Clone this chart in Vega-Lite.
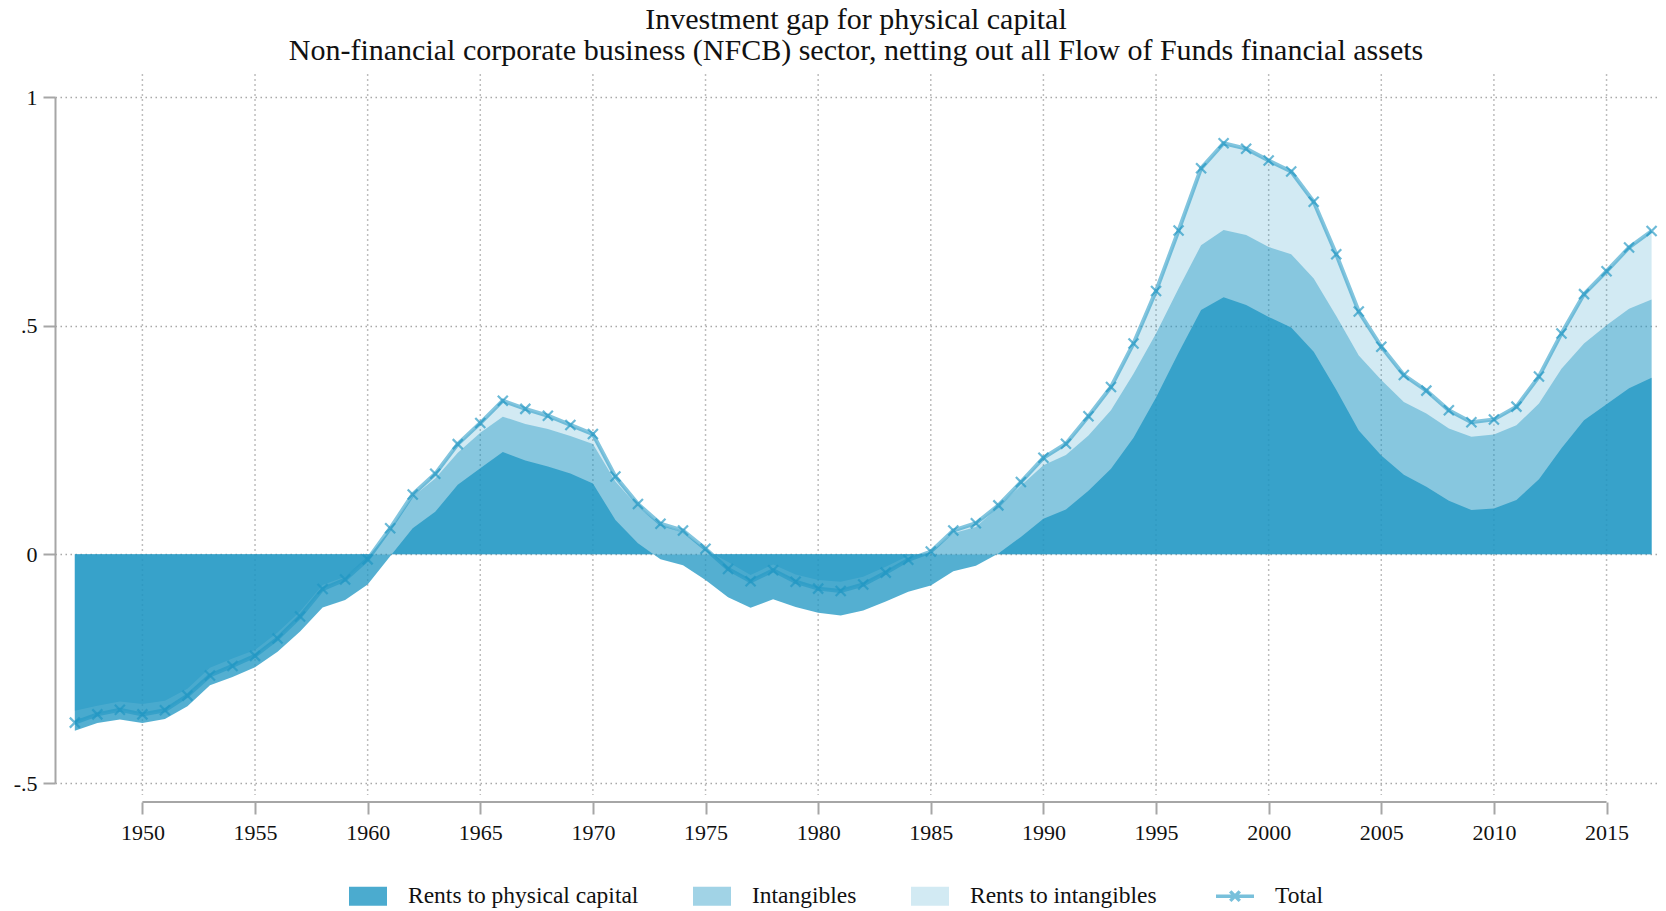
{
  "$schema": "https://vega.github.io/schema/vega-lite/v6.json",
  "width": 1602,
  "height": 686,
  "autosize": {"type": "none"},
  "padding": {"left": 55, "top": 97, "right": 9, "bottom": 128},
  "background": "white",
  "config": {
    "view": {"stroke": null},
    "font": "Liberation Serif",
    "axis": {"labelFont": "Liberation Serif", "labelColor": "#111111", "titleFont": "Liberation Serif"},
    "legend": {"labelFont": "Liberation Serif"}
  },
  "title": {
    "text": "Investment gap for physical capital",
    "subtitle": "Non-financial corporate business (NFCB) sector, netting out all Flow of Funds financial assets",
    "font": "Liberation Serif",
    "fontSize": 30,
    "fontWeight": "normal",
    "color": "#111111",
    "subtitleFont": "Liberation Serif",
    "subtitleFontSize": 30,
    "subtitleColor": "#111111",
    "subtitlePadding": 1,
    "anchor": "middle",
    "offset": 7
  },
  "datasets": {
    "gap": [
      {"year": 1947, "physical": -0.386, "physical_plus_intangibles": -0.342, "total": -0.368},
      {"year": 1948, "physical": -0.369, "physical_plus_intangibles": -0.331, "total": -0.350},
      {"year": 1949, "physical": -0.361, "physical_plus_intangibles": -0.322, "total": -0.340},
      {"year": 1950, "physical": -0.369, "physical_plus_intangibles": -0.327, "total": -0.350},
      {"year": 1951, "physical": -0.360, "physical_plus_intangibles": -0.320, "total": -0.341},
      {"year": 1952, "physical": -0.332, "physical_plus_intangibles": -0.294, "total": -0.309},
      {"year": 1953, "physical": -0.286, "physical_plus_intangibles": -0.248, "total": -0.265},
      {"year": 1954, "physical": -0.268, "physical_plus_intangibles": -0.228, "total": -0.244},
      {"year": 1955, "physical": -0.247, "physical_plus_intangibles": -0.209, "total": -0.222},
      {"year": 1956, "physical": -0.213, "physical_plus_intangibles": -0.171, "total": -0.184},
      {"year": 1957, "physical": -0.169, "physical_plus_intangibles": -0.125, "total": -0.136},
      {"year": 1958, "physical": -0.116, "physical_plus_intangibles": -0.067, "total": -0.076},
      {"year": 1959, "physical": -0.100, "physical_plus_intangibles": -0.049, "total": -0.055},
      {"year": 1960, "physical": -0.066, "physical_plus_intangibles": -0.007, "total": -0.011},
      {"year": 1961, "physical": -0.004, "physical_plus_intangibles": 0.053, "total": 0.057},
      {"year": 1962, "physical": 0.057, "physical_plus_intangibles": 0.126, "total": 0.131},
      {"year": 1963, "physical": 0.093, "physical_plus_intangibles": 0.166, "total": 0.176},
      {"year": 1964, "physical": 0.152, "physical_plus_intangibles": 0.222, "total": 0.241},
      {"year": 1965, "physical": 0.188, "physical_plus_intangibles": 0.266, "total": 0.287},
      {"year": 1966, "physical": 0.224, "physical_plus_intangibles": 0.301, "total": 0.336},
      {"year": 1967, "physical": 0.205, "physical_plus_intangibles": 0.285, "total": 0.318},
      {"year": 1968, "physical": 0.192, "physical_plus_intangibles": 0.274, "total": 0.303},
      {"year": 1969, "physical": 0.177, "physical_plus_intangibles": 0.259, "total": 0.283},
      {"year": 1970, "physical": 0.155, "physical_plus_intangibles": 0.241, "total": 0.263},
      {"year": 1971, "physical": 0.075, "physical_plus_intangibles": 0.159, "total": 0.170},
      {"year": 1972, "physical": 0.024, "physical_plus_intangibles": 0.104, "total": 0.110},
      {"year": 1973, "physical": -0.011, "physical_plus_intangibles": 0.064, "total": 0.067},
      {"year": 1974, "physical": -0.024, "physical_plus_intangibles": 0.048, "total": 0.052},
      {"year": 1975, "physical": -0.056, "physical_plus_intangibles": 0.010, "total": 0.012},
      {"year": 1976, "physical": -0.094, "physical_plus_intangibles": -0.017, "total": -0.032},
      {"year": 1977, "physical": -0.117, "physical_plus_intangibles": -0.045, "total": -0.059},
      {"year": 1978, "physical": -0.098, "physical_plus_intangibles": -0.022, "total": -0.035},
      {"year": 1979, "physical": -0.115, "physical_plus_intangibles": -0.044, "total": -0.060},
      {"year": 1980, "physical": -0.128, "physical_plus_intangibles": -0.056, "total": -0.075},
      {"year": 1981, "physical": -0.134, "physical_plus_intangibles": -0.060, "total": -0.080},
      {"year": 1982, "physical": -0.123, "physical_plus_intangibles": -0.049, "total": -0.066},
      {"year": 1983, "physical": -0.103, "physical_plus_intangibles": -0.027, "total": -0.040},
      {"year": 1984, "physical": -0.082, "physical_plus_intangibles": -0.003, "total": -0.012},
      {"year": 1985, "physical": -0.068, "physical_plus_intangibles": 0.004, "total": 0.006},
      {"year": 1986, "physical": -0.037, "physical_plus_intangibles": 0.046, "total": 0.052},
      {"year": 1987, "physical": -0.025, "physical_plus_intangibles": 0.060, "total": 0.068},
      {"year": 1988, "physical": 0.002, "physical_plus_intangibles": 0.103, "total": 0.107},
      {"year": 1989, "physical": 0.038, "physical_plus_intangibles": 0.150, "total": 0.158},
      {"year": 1990, "physical": 0.078, "physical_plus_intangibles": 0.195, "total": 0.211},
      {"year": 1991, "physical": 0.098, "physical_plus_intangibles": 0.217, "total": 0.242},
      {"year": 1992, "physical": 0.139, "physical_plus_intangibles": 0.260, "total": 0.302},
      {"year": 1993, "physical": 0.187, "physical_plus_intangibles": 0.315, "total": 0.366},
      {"year": 1994, "physical": 0.255, "physical_plus_intangibles": 0.395, "total": 0.461},
      {"year": 1995, "physical": 0.343, "physical_plus_intangibles": 0.483, "total": 0.576},
      {"year": 1996, "physical": 0.441, "physical_plus_intangibles": 0.581, "total": 0.708},
      {"year": 1997, "physical": 0.534, "physical_plus_intangibles": 0.676, "total": 0.844},
      {"year": 1998, "physical": 0.562, "physical_plus_intangibles": 0.709, "total": 0.899},
      {"year": 1999, "physical": 0.545, "physical_plus_intangibles": 0.698, "total": 0.887},
      {"year": 2000, "physical": 0.519, "physical_plus_intangibles": 0.672, "total": 0.861},
      {"year": 2001, "physical": 0.496, "physical_plus_intangibles": 0.656, "total": 0.837},
      {"year": 2002, "physical": 0.443, "physical_plus_intangibles": 0.603, "total": 0.771},
      {"year": 2003, "physical": 0.360, "physical_plus_intangibles": 0.521, "total": 0.656},
      {"year": 2004, "physical": 0.271, "physical_plus_intangibles": 0.435, "total": 0.531},
      {"year": 2005, "physical": 0.216, "physical_plus_intangibles": 0.381, "total": 0.454},
      {"year": 2006, "physical": 0.174, "physical_plus_intangibles": 0.333, "total": 0.392},
      {"year": 2007, "physical": 0.148, "physical_plus_intangibles": 0.308, "total": 0.358},
      {"year": 2008, "physical": 0.117, "physical_plus_intangibles": 0.275, "total": 0.315},
      {"year": 2009, "physical": 0.097, "physical_plus_intangibles": 0.257, "total": 0.289},
      {"year": 2010, "physical": 0.100, "physical_plus_intangibles": 0.262, "total": 0.295},
      {"year": 2011, "physical": 0.119, "physical_plus_intangibles": 0.282, "total": 0.323},
      {"year": 2012, "physical": 0.164, "physical_plus_intangibles": 0.330, "total": 0.389},
      {"year": 2013, "physical": 0.232, "physical_plus_intangibles": 0.406, "total": 0.483},
      {"year": 2014, "physical": 0.293, "physical_plus_intangibles": 0.461, "total": 0.569},
      {"year": 2015, "physical": 0.328, "physical_plus_intangibles": 0.501, "total": 0.619},
      {"year": 2016, "physical": 0.363, "physical_plus_intangibles": 0.537, "total": 0.671},
      {"year": 2017, "physical": 0.386, "physical_plus_intangibles": 0.557, "total": 0.707}
    ],
    "tickyears": [
      {"year": 1950}, {"year": 1955}, {"year": 1960}, {"year": 1965}, {"year": 1970}, {"year": 1975}, {"year": 1980},
      {"year": 1985}, {"year": 1990}, {"year": 1995}, {"year": 2000}, {"year": 2005}, {"year": 2010}, {"year": 2015}
    ]
  },
  "layer": [
    {
      "data": {"name": "tickyears"},
      "mark": {"type": "rule", "color": "#a8a8a8", "strokeWidth": 1.5, "strokeDash": [1.5, 3.5]},
      "encoding": {
        "x": {"field": "year", "type": "quantitative"},
        "y": {"datum": 1.05},
        "y2": {"datum": -0.526}
      }
    },
    {
      "data": {"values": [{"axis": "x"}]},
      "mark": {"type": "rule", "color": "#a6a6a6", "strokeWidth": 2},
      "encoding": {
        "x": {"datum": 1950},
        "x2": {"datum": 2015},
        "y": {"datum": -0.5416}
      }
    },
    {
      "data": {"name": "gap"},
      "mark": {"type": "area", "fillOpacity": 0.2, "interpolate": "linear"},
      "encoding": {
        "x": {
          "field": "year", "type": "quantitative",
          "scale": {"domain": [1946.12, 2017.24], "nice": false, "zero": false},
          "axis": {
            "title": null, "values": [1950, 1955, 1960, 1965, 1970, 1975, 1980, 1985, 1990, 1995, 2000, 2005, 2010, 2015],
            "format": "d", "domain": false, "grid": false, "offset": 19,
            "tickSize": 12, "tickWidth": 2, "tickColor": "#a6a6a6",
            "labelFontSize": 22, "labelPadding": 8
          }
        },
        "y": {
          "field": "total", "type": "quantitative", "stack": null,
          "scale": {"domain": [-0.5, 1], "nice": false, "zero": false},
          "axis": {
            "title": null, "values": [-0.5, 0, 0.5, 1],
            "labelExpr": "datum.value == 0.5 ? '.5' : datum.value == -0.5 ? '-.5' : datum.value == 1 ? '1' : '0'",
            "domainColor": "#a6a6a6", "domainWidth": 2,
            "tickSize": 12, "tickWidth": 2, "tickColor": "#a6a6a6",
            "labelFontSize": 22, "labelPadding": 6,
            "grid": true, "gridColor": "#a8a8a8", "gridDash": [1.5, 3.5], "gridWidth": 1.5
          }
        },
        "y2": {"datum": 0},
        "color": {
          "datum": "Rents to intangibles",
          "scale": {
            "domain": ["Rents to physical capital", "Intangibles", "Rents to intangibles", "Total"],
            "range": ["#1e96c3", "#1e96c3", "#1e96c3", "#1e96c3"]
          },
          "legend": {
            "title": null,
            "orient": "none",
            "legendX": 292,
            "legendY": 778,
            "direction": "horizontal",
            "padding": 0,
            "symbolSize": 1444,
            "symbolType": "M-1,-0.5L1,-0.5L1,0.5L-1,0.5Z",
            "labelFontSize": 23.5,
            "labelColor": "#111111",
            "labelLimit": 0,
            "labelOffset": 19,
            "columnPadding": 52,
            "encoding": {
              "symbols": {
                "shape": {"value": {"expr": "datum.label == 'Total' ? 'M-1,0L1,0M-0.25,-0.25L0.25,0.25M-0.25,0.25L0.25,-0.25' : 'M-1,-0.5L1,-0.5L1,0.5L-1,0.5Z'"}},
                "fill": {"value": "#1e96c3"},
                "fillOpacity": {"value": {"expr": "datum.label == 'Total' ? 0 : datum.label == 'Intangibles' ? 0.42 : datum.label == 'Rents to intangibles' ? 0.2 : 0.8"}},
                "stroke": {"value": "#1e96c3"},
                "strokeOpacity": {"value": {"expr": "datum.label == 'Total' ? 0.6 : 0"}},
                "strokeWidth": {"value": 3.5},
                "opacity": {"value": 1}
              }
            }
          }
        }
      }
    },
    {
      "data": {"name": "gap"},
      "mark": {"type": "area", "fillOpacity": 0.42, "interpolate": "linear"},
      "encoding": {
        "x": {"field": "year", "type": "quantitative"},
        "y": {"field": "physical_plus_intangibles", "type": "quantitative", "stack": null},
        "y2": {"datum": 0},
        "color": {"datum": "Intangibles"}
      }
    },
    {
      "data": {"name": "gap"},
      "mark": {"type": "area", "fillOpacity": 0.76, "interpolate": "linear"},
      "encoding": {
        "x": {"field": "year", "type": "quantitative"},
        "y": {"field": "physical", "type": "quantitative", "stack": null},
        "y2": {"datum": 0},
        "color": {"datum": "Rents to physical capital"}
      }
    },
    {
      "data": {"name": "gap"},
      "mark": {"type": "line", "strokeWidth": 4, "opacity": 0.55, "interpolate": "linear"},
      "encoding": {
        "x": {"field": "year", "type": "quantitative"},
        "y": {"field": "total", "type": "quantitative"},
        "color": {"datum": "Total"}
      }
    },
    {
      "data": {"name": "gap"},
      "mark": {"type": "point", "shape": "M-1,-1L1,1M-1,1L1,-1", "filled": false, "size": 100, "strokeWidth": 2.2, "opacity": 0.65},
      "encoding": {
        "x": {"field": "year", "type": "quantitative"},
        "y": {"field": "total", "type": "quantitative"},
        "color": {"datum": "Total"}
      }
    }
  ]
}
